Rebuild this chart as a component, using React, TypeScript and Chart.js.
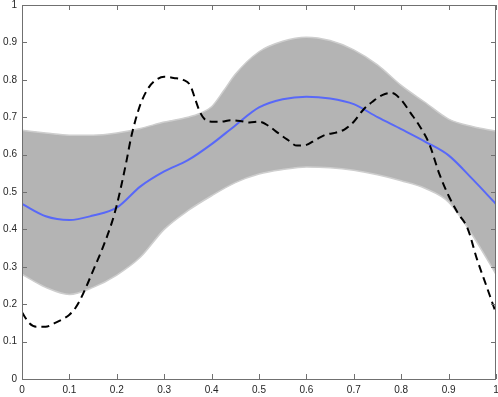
import React, { useEffect, useRef } from "react";
import { Chart, registerables } from "chart.js";

Chart.register(...registerables);

// grid of x positions for the lower envelope and mean curves
const xGrid = [0, 0.05, 0.1, 0.15, 0.2, 0.25, 0.3, 0.35, 0.4, 0.45, 0.5, 0.55, 0.6, 0.65, 0.7, 0.75, 0.8, 0.85, 0.9, 0.95, 1];

// outer envelope of the grey family of curves
const upperX = [0, 0.05, 0.1, 0.15, 0.2, 0.25, 0.3, 0.35, 0.375, 0.4, 0.425, 0.45, 0.5, 0.55, 0.6, 0.65, 0.7, 0.75, 0.8, 0.85, 0.9, 0.95, 1];
const upperEnvelope = [0.665, 0.658, 0.652, 0.652, 0.658, 0.67, 0.687, 0.70, 0.71, 0.728, 0.77, 0.815, 0.875, 0.903, 0.914, 0.905, 0.88, 0.84, 0.785, 0.74, 0.695, 0.675, 0.663];
const lowerEnvelope = [0.28, 0.245, 0.226, 0.245, 0.278, 0.326, 0.40, 0.45, 0.49, 0.525, 0.548, 0.56, 0.567, 0.565, 0.558, 0.546, 0.53, 0.51, 0.473, 0.385, 0.28];

// mean curve (blue)
const meanCurve = [0.468, 0.435, 0.425, 0.437, 0.458, 0.515, 0.555, 0.585, 0.628, 0.678, 0.726, 0.748, 0.755, 0.75, 0.735, 0.70, 0.668, 0.635, 0.598, 0.535, 0.468];

// dashed black curve
const dashedX = [0, 0.015, 0.03, 0.05, 0.07, 0.09, 0.1, 0.11, 0.12, 0.135, 0.15, 0.17, 0.19, 0.2, 0.21, 0.22, 0.23, 0.24, 0.25, 0.265, 0.28, 0.3, 0.32, 0.34, 0.355, 0.365, 0.375, 0.385, 0.4, 0.42, 0.44, 0.46, 0.48, 0.5, 0.52, 0.54, 0.56, 0.58, 0.6, 0.62, 0.64, 0.66, 0.68, 0.7, 0.72, 0.74, 0.76, 0.78, 0.8, 0.82, 0.84, 0.86, 0.88, 0.9, 0.92, 0.94, 0.96, 0.98, 1];
const dashedY = [0.178, 0.15, 0.14, 0.14, 0.15, 0.163, 0.172, 0.185, 0.205, 0.245, 0.29, 0.35, 0.42, 0.465, 0.52, 0.58, 0.645, 0.695, 0.735, 0.775, 0.797, 0.808, 0.805, 0.80, 0.785, 0.75, 0.715, 0.695, 0.688, 0.688, 0.692, 0.69, 0.686, 0.688, 0.677, 0.658, 0.64, 0.624, 0.626, 0.64, 0.653, 0.658, 0.667, 0.688, 0.72, 0.742, 0.759, 0.765, 0.746, 0.711, 0.674, 0.626, 0.55, 0.49, 0.443, 0.403, 0.32, 0.248, 0.176];

// tick values
const xTicks = [0, 0.1, 0.2, 0.3, 0.4, 0.5, 0.6, 0.7, 0.8, 0.9, 1];
const yTicks = [0, 0.1, 0.2, 0.3, 0.4, 0.5, 0.6, 0.7, 0.8, 0.9, 1];

const pts = (xs: number[], ys: number[]) => xs.map((x, i) => ({ x, y: ys[i] }));
const fmt = (v: number) => String(Number(v.toFixed(1)));

const AXIS_COLOR = "#707070";

const framePlugin = {
  id: "frame",
  afterDatasetsDraw(chart: any) {
    const { ctx, chartArea } = chart;
    const { left, right, top, bottom } = chartArea;
    const xs = chart.scales.x;
    const ys = chart.scales.y;
    const tl = 5;
    ctx.save();
    ctx.strokeStyle = AXIS_COLOR;
    ctx.lineWidth = 1;
    ctx.beginPath();
    ctx.rect(Math.round(left) + 0.5, Math.round(top) + 0.5, Math.round(right - left) - 1, Math.round(bottom - top));
    ctx.stroke();
    ctx.beginPath();
    xs.ticks.forEach((t: any) => {
      const px = Math.round(xs.getPixelForValue(t.value)) + 0.5;
      ctx.moveTo(px, bottom);
      ctx.lineTo(px, bottom - tl);
      ctx.moveTo(px, top);
      ctx.lineTo(px, top + tl);
    });
    ys.ticks.forEach((t: any) => {
      const py = Math.round(ys.getPixelForValue(t.value)) + 0.5;
      ctx.moveTo(left, py);
      ctx.lineTo(left + tl, py);
      ctx.moveTo(right, py);
      ctx.lineTo(right - tl, py);
    });
    ctx.stroke();
    ctx.restore();
  },
};

export default function App() {
  const ref = useRef<HTMLCanvasElement | null>(null);

  useEffect(() => {
    if (!ref.current) return;
    Chart.defaults.font.family = "'Liberation Sans', Arial, Helvetica, sans-serif";
    Chart.defaults.font.size = 10;
    Chart.defaults.color = "#262626";

    const chart = new Chart(ref.current, {
      type: "line",
      data: {
        datasets: [
          {
            label: "dashed",
            data: pts(dashedX, dashedY),
            borderColor: "#000000",
            borderWidth: 2,
            borderDash: [8, 5],
            pointRadius: 0,
            fill: false,
            cubicInterpolationMode: "monotone",
          },
          {
            label: "mean",
            data: pts(xGrid, meanCurve),
            borderColor: "rgb(88,104,248)",
            borderWidth: 2,
            pointRadius: 0,
            fill: false,
            cubicInterpolationMode: "monotone",
          },
          {
            label: "upper",
            data: pts(upperX, upperEnvelope),
            borderColor: "rgb(206,206,206)",
            borderWidth: 1.5,
            pointRadius: 0,
            fill: false,
            cubicInterpolationMode: "monotone",
          },
          {
            label: "lower",
            data: pts(xGrid, lowerEnvelope),
            borderColor: "rgb(206,206,206)",
            borderWidth: 1.5,
            pointRadius: 0,
            fill: "-1",
            backgroundColor: "rgb(180,180,180)",
            cubicInterpolationMode: "monotone",
          },
        ],
      },
      options: {
        animation: false,
        responsive: false,
        devicePixelRatio: 1,
        layout: { padding: { left: 0, top: 5, right: 2, bottom: 0 } },
        plugins: {
          legend: { display: false },
          tooltip: { enabled: false },
        },
        scales: {
          x: {
            type: "linear",
            min: 0,
            max: 1,
            grid: { display: false, drawTicks: false },
            border: { display: false },
            afterBuildTicks: (s: any) => {
              s.ticks = xTicks.map((v) => ({ value: v }));
            },
            ticks: {
              autoSkip: false,
              maxRotation: 0,
              padding: 5,
              callback: (v: any) => fmt(Number(v)),
            },
            afterFit: (s: any) => {
              s.height = 18;
              s.paddingLeft = 0;
              s.paddingRight = 0;
            },
          },
          y: {
            type: "linear",
            min: 0,
            max: 1,
            grid: { display: false, drawTicks: false },
            border: { display: false },
            afterBuildTicks: (s: any) => {
              s.ticks = yTicks.map((v) => ({ value: v }));
            },
            ticks: {
              autoSkip: false,
              padding: 5,
              callback: (v: any) => fmt(Number(v)),
            },
            afterFit: (s: any) => {
              s.width = 22;
              s.paddingTop = 0;
              s.paddingBottom = 0;
            },
          },
        },
      },
      plugins: [framePlugin],
    } as any);

    return () => chart.destroy();
  }, []);

  return (
    <div style={{ position: "fixed", left: 0, top: 0, width: 498, height: 397, background: "#ffffff" }}>
      <canvas ref={ref} width={498} height={397} style={{ display: "block", width: 498, height: 397 }} />
    </div>
  );
}
